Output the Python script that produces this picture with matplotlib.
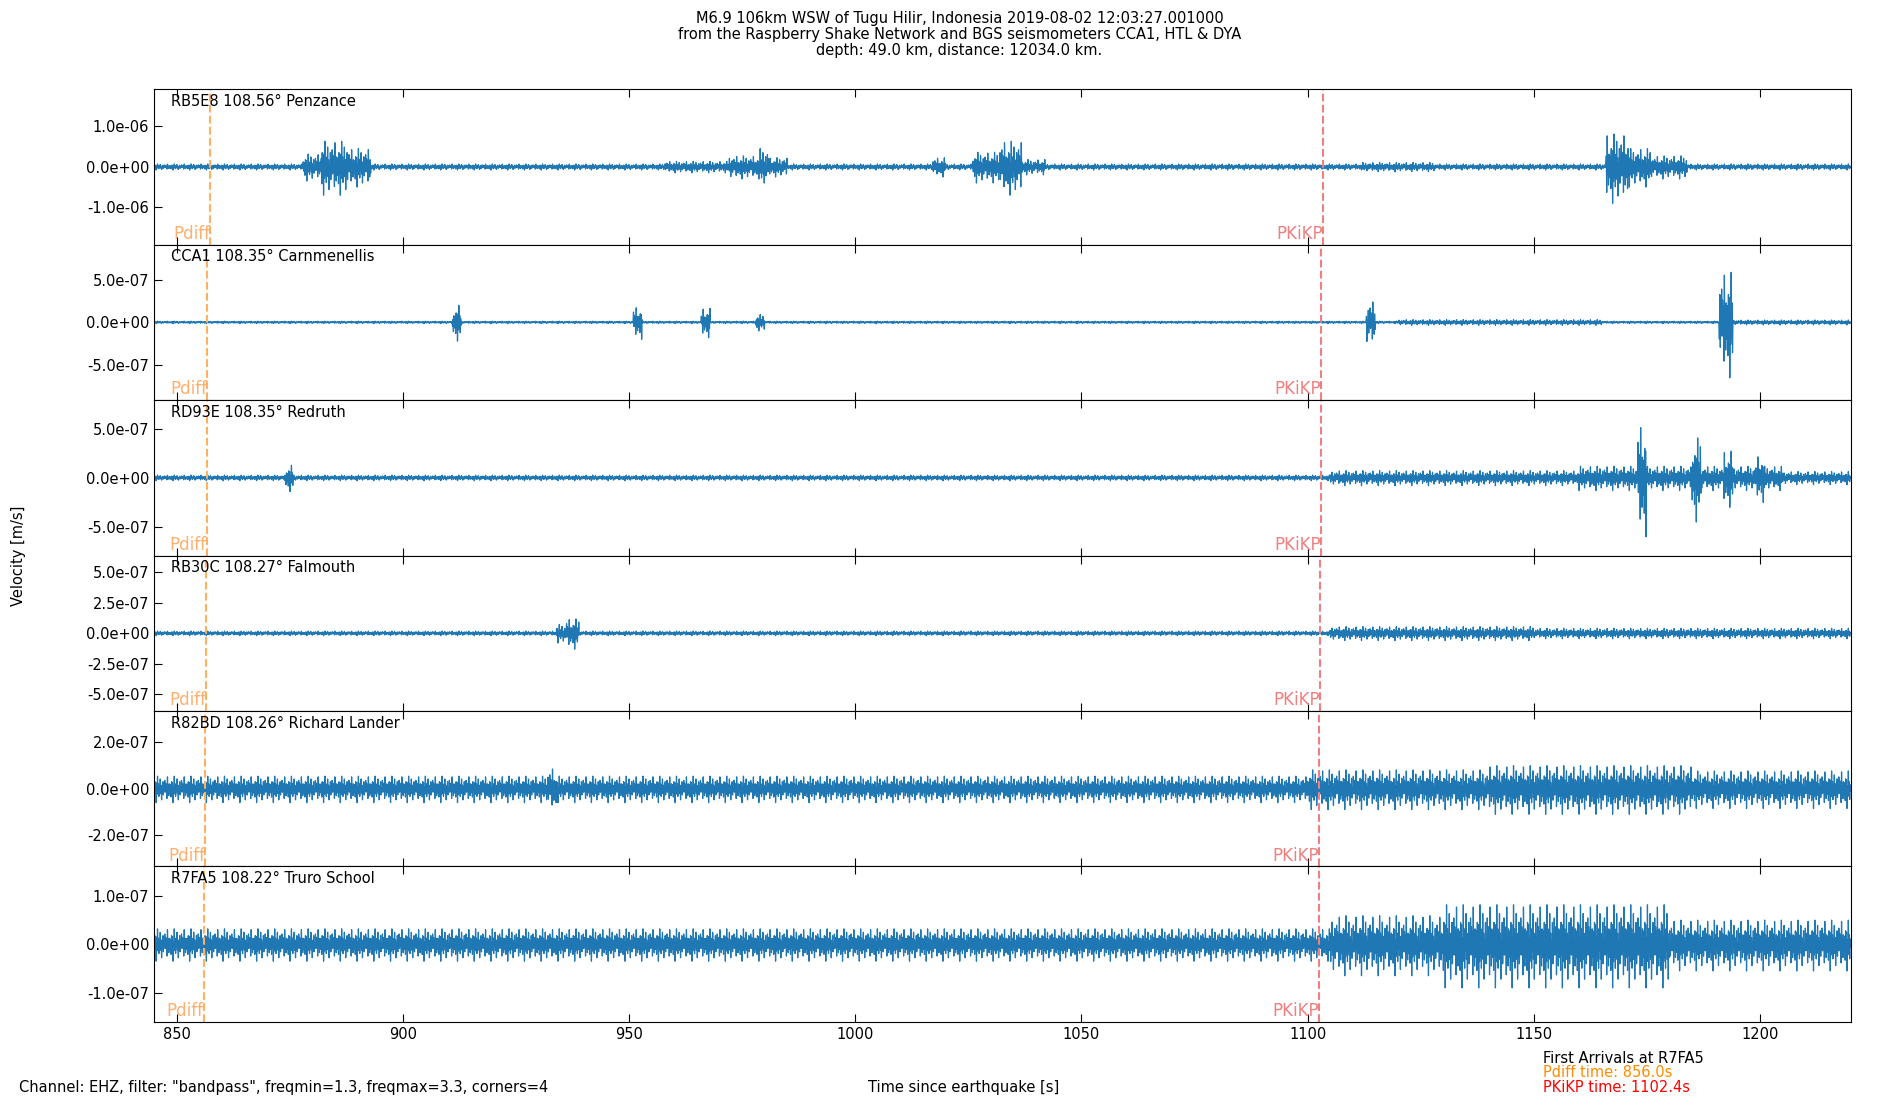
import matplotlib.pyplot as plt
import numpy as np

# station label, y half-range, y ticks, Pdiff / PKiKP line times
STATIONS = ["RB5E8 108.56° Penzance", "CCA1 108.35° Carnmenellis",
            "RD93E 108.35° Redruth", "RB30C 108.27° Falmouth",
            "R82BD 108.26° Richard Lander", "R7FA5 108.22° Truro School"]
YLIM = [1.92e-6, 9.1e-7, 7.9e-7, 6.35e-7, 3.35e-7, 1.6e-7]
YTICKS = [[-1e-6, 0, 1e-6], [-5e-7, 0, 5e-7], [-5e-7, 0, 5e-7],
          [-5e-7, -2.5e-7, 0, 2.5e-7, 5e-7], [-2e-7, 0, 2e-7], [-1e-7, 0, 1e-7]]
PDIFF = [857.5, 856.8, 856.7, 856.6, 856.3, 856.0]
PKIKP = [1103.5, 1103.0, 1102.9, 1102.8, 1102.6, 1102.4]

# background noise amplitude per station
BASE = [0.08e-6, 0.015e-6, 0.3e-7, 0.2e-7, 0.6e-7, 0.35e-7]
# (start s, end s, amplitude) bursts
BURSTS = [
    [(878, 882, 0.35e-6), (882, 888, 0.7e-6), (888, 893, 0.5e-6), (958, 972, 0.15e-6),
     (972, 979, 0.3e-6), (979, 981, 0.5e-6), (981, 985, 0.25e-6), (1017, 1020, 0.25e-6),
     (1026, 1032, 0.4e-6), (1032, 1037, 0.7e-6), (1037, 1042, 0.2e-6), (1112, 1128, 0.12e-6),
     (1166, 1171, 0.9e-6), (1171, 1176, 0.5e-6), (1176, 1184, 0.3e-6)],
    [(911, 913, 2.2e-7), (951, 953, 2.0e-7), (966, 968, 1.8e-7), (978, 980, 1.0e-7),
     (1113, 1115, 2.8e-7), (1120, 1165, 0.35e-7), (1191, 1194, 6.5e-7), (1194, 1220, 0.3e-7)],
    [(874, 876, 1.4e-7), (1105, 1160, 0.8e-7), (1160, 1205, 1.3e-7), (1173, 1175, 6.0e-7),
     (1185, 1187, 4.5e-7), (1192, 1194, 3.0e-7), (1199, 1201, 2.5e-7), (1205, 1220, 0.7e-7)],
    [(934, 936, 0.8e-7), (936, 939, 1.3e-7), (1105, 1150, 0.6e-7), (1150, 1220, 0.45e-7)],
    [(932, 934, 1.0e-7), (1100, 1140, 0.9e-7), (1140, 1185, 1.1e-7), (1185, 1220, 0.85e-7)],
    [(1105, 1130, 0.65e-7), (1130, 1180, 0.9e-7), (1180, 1220, 0.55e-7)],
]
# fixed texture of the oscillation
TEXTURE = [0.3, -0.6, 0.5, -0.25, 0.45, -1.0, 0.15, -0.4, 0.9, -0.3, 0.35, -0.55,
           0.2, -0.15, 0.7, -0.35, 0.25, -0.8, 0.1, -0.3, 0.5, -0.45, 0.05, -0.2,
           0.6, -0.25, 0.4, -0.1, 0.3, -0.7, 0.85, -0.2, 0.15, -0.5, 0.35, -0.3, 0.2]

TRACE = "#1f77b4"


def trace(i):
    t = np.arange(845, 1220.01, 0.1)
    amp = np.full(t.size, BASE[i])
    for t0, t1, a in BURSTS[i]:
        m = (t >= t0) & (t < t1)
        amp[m] = np.maximum(amp[m], a)
    tex = np.resize(np.array(TEXTURE), t.size)
    return t, amp * tex


fig, axes = plt.subplots(6, 1, figsize=(19, 11), sharex=True)
fig.subplots_adjust(left=0.081, right=0.974, top=0.919, bottom=0.071, hspace=0)
FS = 10.5

for i, ax in enumerate(axes):
    t, y = trace(i)
    ax.plot(t, y, color=TRACE, lw=0.9)
    ax.set_xlim(845, 1220)
    ax.set_ylim(-YLIM[i], YLIM[i])
    ax.set_yticks(YTICKS[i])
    ax.set_yticklabels([f"{v:.1e}" for v in YTICKS[i]])
    ax.tick_params(direction="in", top=True, labelsize=FS, length=6)
    ax.axvline(PDIFF[i], color="#ffb060", ls="--", lw=1.5)
    ax.axvline(PKIKP[i], color="#f08080", ls="--", lw=1.5)
    ax.text(PDIFF[i], -YLIM[i] * 0.98, "Pdiff", color="#ffb070", ha="right",
            va="bottom", fontsize=12)
    ax.text(PKIKP[i], -YLIM[i] * 0.98, "PKiKP", color="#f08080", ha="right",
            va="bottom", fontsize=12)
    ax.text(0.01, 0.97, STATIONS[i], transform=ax.transAxes, ha="left", va="top",
            fontsize=FS)

axes[-1].set_xticks([850, 900, 950, 1000, 1050, 1100, 1150, 1200])

fig.text(0.505, 0.99, "M6.9 106km WSW of Tugu Hilir, Indonesia 2019-08-02 12:03:27.001000\n"
         "from the Raspberry Shake Network and BGS seismometers CCA1, HTL & DYA\n"
         "depth: 49.0 km, distance: 12034.0 km.", ha="center", va="top", fontsize=FS,
         linespacing=1.1)
fig.text(0.01, 0.495, "Velocity [m/s]", rotation=90, ha="center", va="center", fontsize=FS)
fig.text(0.507, 0.0045, "Time since earthquake [s]", ha="center", va="bottom", fontsize=FS)
fig.text(0.01, 0.0045, 'Channel: EHZ, filter: "bandpass", freqmin=1.3, freqmax=3.3, corners=4',
         ha="left", va="bottom", fontsize=FS)
fig.text(0.812, 0.031, "First Arrivals at R7FA5", ha="left", va="bottom", fontsize=FS)
fig.text(0.812, 0.018, "Pdiff time: 856.0s", color="#ff8c00", ha="left", va="bottom", fontsize=FS)
fig.text(0.812, 0.0045, "PKiKP time: 1102.4s", color="red", ha="left", va="bottom", fontsize=FS)

fig.savefig("out.png", dpi=100)
